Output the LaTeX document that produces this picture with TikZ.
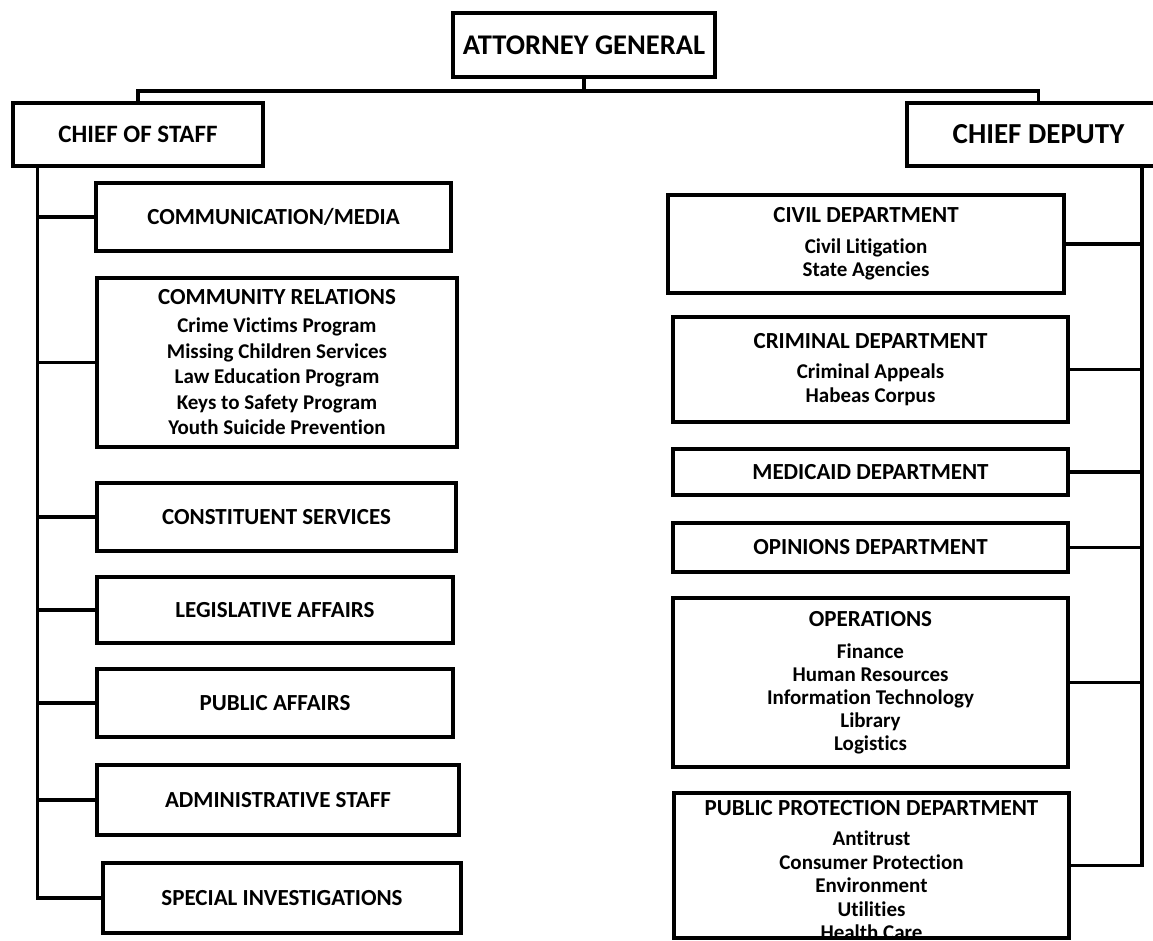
\documentclass[tikz,border=0pt]{standalone}
\usepackage{fontspec}
\setmainfont{Carlito}[Ligatures=NoCommon]
\newcommand{\hd}[1]{{\fontsize{23}{23}\selectfont #1}}
\begin{document}
\begin{tikzpicture}[x=1pt, y=-1pt,
    unit/.style={draw, line width=3.6pt, inner sep=0pt, align=center, font=\bfseries\fontsize{23}{23}\selectfont},
    items/.style={font=\bfseries\fontsize{21}{#1}\selectfont},
    link/.style={line width=3.4pt}]
    \fill[white] (0,0) rectangle (1153,940);
    \useasboundingbox (0,0) rectangle (1153,940);

    % top level
    \node[unit, minimum width=262pt, minimum height=64pt, font=\bfseries\fontsize{28.5}{28.5}\selectfont] (ag) at (584,45) {ATTORNEY GENERAL};
    \node[unit, minimum width=250pt, minimum height=63pt, font=\bfseries\fontsize{25}{25}\selectfont] (cos) at (138,134.5) {CHIEF OF STAFF};
    \node[unit, minimum width=263pt, minimum height=63pt, font=\bfseries\fontsize{29}{29}\selectfont] (cd) at (1038.5,134.5) {CHIEF DEPUTY};

    % chief of staff side
    \node[unit, minimum width=355pt, minimum height=68pt] (comm) at (273.5,217) {COMMUNICATION/MEDIA};
    \node[unit, minimum width=360pt, minimum height=169pt, items=25.5] (comrel) at (277,362.5)
        {\hd{COMMUNITY RELATIONS}\\[2.5pt] Crime Victims Program\\ Missing Children Services\\ Law Education Program\\ Keys to Safety Program\\ Youth Suicide Prevention};
    \node[unit, minimum width=359pt, minimum height=68pt] (const) at (276.5,517) {CONSTITUENT SERVICES};
    \node[unit, minimum width=356pt, minimum height=66pt] (legis) at (275,610) {LEGISLATIVE AFFAIRS};
    \node[unit, minimum width=356pt, minimum height=68pt] (pubaff) at (275,703) {PUBLIC AFFAIRS};
    \node[unit, minimum width=362pt, minimum height=70pt] (admin) at (278,800) {ADMINISTRATIVE STAFF};
    \node[unit, minimum width=358pt, minimum height=70pt] (spec) at (282,898) {SPECIAL INVESTIGATIONS};

    % chief deputy side
    \node[unit, minimum width=396pt, minimum height=98pt, items=23] (civil) at (866,244)
        {\hd{CIVIL DEPARTMENT}\\[8pt] Civil Litigation\\ State Agencies};
    \node[unit, minimum width=395pt, minimum height=105pt, items=24] (crim) at (870.5,369.5)
        {\hd{CRIMINAL DEPARTMENT}\\[6pt] Criminal Appeals\\ Habeas Corpus};
    \node[unit, minimum width=395pt, minimum height=46pt] (medic) at (870.5,472) {MEDICAID DEPARTMENT};
    \node[unit, minimum width=395pt, minimum height=49pt] (opin) at (870.5,547.5) {OPINIONS DEPARTMENT};
    \node[unit, minimum width=395pt, minimum height=169pt, items=23] (oper) at (870.5,682.5)
        {\hd{OPERATIONS}\\[9pt] Finance\\ Human Resources\\ Information Technology\\ Library\\ Logistics};
    \node[unit, minimum width=395pt, minimum height=145pt] (pubprot) at (871.5,865.5) {};
    % its text runs over the bottom edge
    \node[items=23.5, align=center, inner sep=0pt] (pptext) at ([yshift=-5pt]pubprot.center)
        {\hd{PUBLIC PROTECTION DEPARTMENT}\\[6.5pt] Antitrust\\ Consumer Protection\\ Environment\\ Utilities\\ Health Care};

    % lines
    \draw[link] (ag.south) -- ++(0,12) coordinate (bus);
    \draw[link] (cos.north) |- (bus) -| (cd.north);

    \coordinate (ls) at ([xshift=26pt]cos.south west);
    \draw[link] (ls) |- (spec.west);
    \foreach \b in {comm,comrel,const,legis,pubaff,admin}{
        \draw[link] (ls |- \b.west) -- (\b.west);
    }

    \coordinate (rs) at (1142,166);
    \draw[link] (rs) |- (pubprot.east);
    \foreach \b in {civil,crim,medic,opin,oper}{
        \draw[link] (rs |- \b.east) -- (\b.east);
    }
\end{tikzpicture}
\end{document}
